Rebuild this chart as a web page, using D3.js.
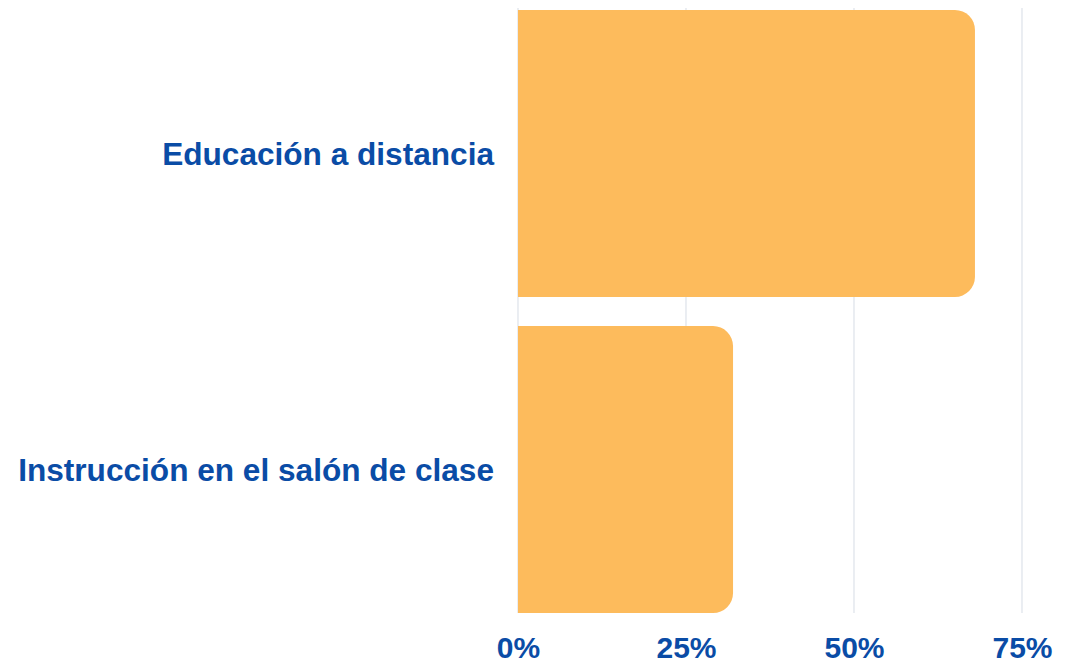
<!DOCTYPE html>
<html>
<head>
<meta charset="utf-8">
<script src="https://cdn.jsdelivr.net/npm/d3@7"></script>
<style>
  html, body { margin: 0; padding: 0; background: #fff; }
  svg { display: block; }
</style>
</head>
<body>
<script>
// data
const categories = ["Educación a distancia", "Instrucción en el salón de clase"];
const values = [0.68, 0.32];
const tickValues = [0, 0.25, 0.5, 0.75];

// canvas size
const width = 1074;
const height = 663;
const plotLeft = 518;
const plotRight = 1022;
const plotTop = 10;
const plotBottom = 613;

const blue = "#0a4ca6";
const barColor = "#fdbb5c";
const gridColor = "#dde2ea";
const radius = 20;

const svg = d3
  .select("body")
  .append("svg")
  .attr("width", width)
  .attr("height", height);

// scales
const xScale = d3.scaleLinear().domain([0, 0.75]).range([plotLeft, plotRight]);

const yScale = d3
  .scaleBand()
  .domain(categories)
  .range([plotTop, plotBottom])
  .paddingInner(0.092)
  .paddingOuter(0);

// grid lines
svg
  .append("g")
  .selectAll("line")
  .data(tickValues)
  .enter()
  .append("line")
  .attr("x1", (d) => xScale(d))
  .attr("x2", (d) => xScale(d))
  .attr("y1", plotTop - 2)
  .attr("y2", plotBottom)
  .attr("stroke", gridColor)
  .attr("stroke-width", 1.2);

// bars with rounded right corners
function barPath(d, i) {
  const x0 = xScale(0);
  const x1 = xScale(d);
  const y0 = yScale(categories[i]);
  const y1 = y0 + yScale.bandwidth();
  const r = Math.min(radius, (x1 - x0) / 2);
  return (
    "M" + x0 + "," + y0 +
    "H" + (x1 - r) +
    "A" + r + "," + r + " 0 0 1 " + x1 + "," + (y0 + r) +
    "V" + (y1 - r) +
    "A" + r + "," + r + " 0 0 1 " + (x1 - r) + "," + y1 +
    "H" + x0 + "Z"
  );
}

svg
  .append("g")
  .selectAll("path")
  .data(values)
  .enter()
  .append("path")
  .attr("d", barPath)
  .attr("fill", barColor);

// category labels
const yAxis = d3.axisLeft(yScale).tickSize(0).tickPadding(24);
const yG = svg
  .append("g")
  .attr("transform", "translate(" + plotLeft + ",0)")
  .call(yAxis);
yG.select(".domain").remove();
yG.selectAll("text")
  .attr("fill", blue)
  .attr("dy", "0.36em")
  .style("font-family", "'Liberation Sans', Arial, sans-serif")
  .style("font-weight", "bold")
  .style("font-size", "31.6px");

// x axis labels
const xAxis = d3
  .axisBottom(xScale)
  .tickValues(tickValues)
  .tickFormat(d3.format(".0%"))
  .tickSize(0)
  .tickPadding(0);
const xG = svg
  .append("g")
  .attr("transform", "translate(0," + 637 + ")")
  .call(xAxis);
xG.select(".domain").remove();
xG.selectAll("text")
  .attr("fill", blue)
  .attr("dy", "0.71em")
  .style("font-family", "'Liberation Sans', Arial, sans-serif")
  .style("font-weight", "bold")
  .style("font-size", "30px");
</script>
</body>
</html>
